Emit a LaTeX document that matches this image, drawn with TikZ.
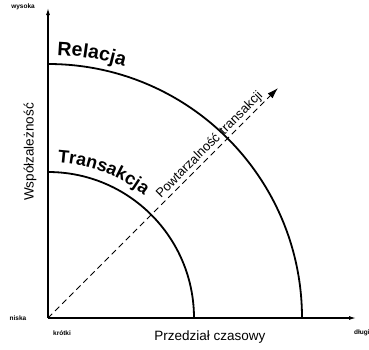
\documentclass[tikz,border=0pt]{standalone}
\usepackage{fontspec}
\setmainfont{Liberation Sans}
\usetikzlibrary{arrows.meta,decorations.text}
\tikzset{ax/.style={line width=1.2pt,-{Latex[length=7pt,width=4pt]}},
 arcln/.style={line width=1.8pt},
 lb/.style={font=\fontsize{6.5}{7}\selectfont\bfseries,inner sep=1pt},
 tt/.style={font=\fontsize{13.5}{15}\selectfont,inner sep=1pt},
 cv/.style 2 args={decorate,decoration={text along path,text align=left,text={|\fontsize{#2}{20}\selectfont\bfseries|#1}}}}

\begin{document}
\begin{tikzpicture}[x=1pt,y=1pt]
\useasboundingbox (-48,-31) rectangle (321,318);
\coordinate (O) at (0,0);\coordinate (Y) at (0,310);\coordinate (X) at (308,0);\coordinate (P) at (230,230);
% axes
\draw[ax](O)--(Y);\draw[ax](O)--(X);
\node[lb](hi) at (-25,311){wysoka};\node[lb](lo) at (-30,0){niska};
\node[lb](kr) at (14,-15){krótki};\node[lb,anchor=west](dl) at (305,-15){długi};
\node[tt](px) at (162,-19){Przedział czasowy};\node[tt,rotate=90](wz) at (-18,166){Współzależność};
% arcs
\draw[arcln](0,254) arc[start angle=90,end angle=0,radius=254];
\draw[arcln](0,146) arc[start angle=90,end angle=0,radius=146];
\path[cv={Relacja}{19.5}](88:263) arc[start angle=88,end angle=60,radius=263];
\path[cv={Transakcja}{18}](86.5:156) arc[start angle=86.5,end angle=40,radius=156];
% frequency
\draw[dash pattern=on 6pt off 4pt,line width=1pt,-{Latex[length=11pt,width=7pt]}](O)--(P)
 node[pos=.728,sloped,above,font=\fontsize{13}{15}\selectfont,inner sep=1.5pt](pt){Powtarzalność\hspace{5pt}transakcji};
\end{tikzpicture}
\end{document}
